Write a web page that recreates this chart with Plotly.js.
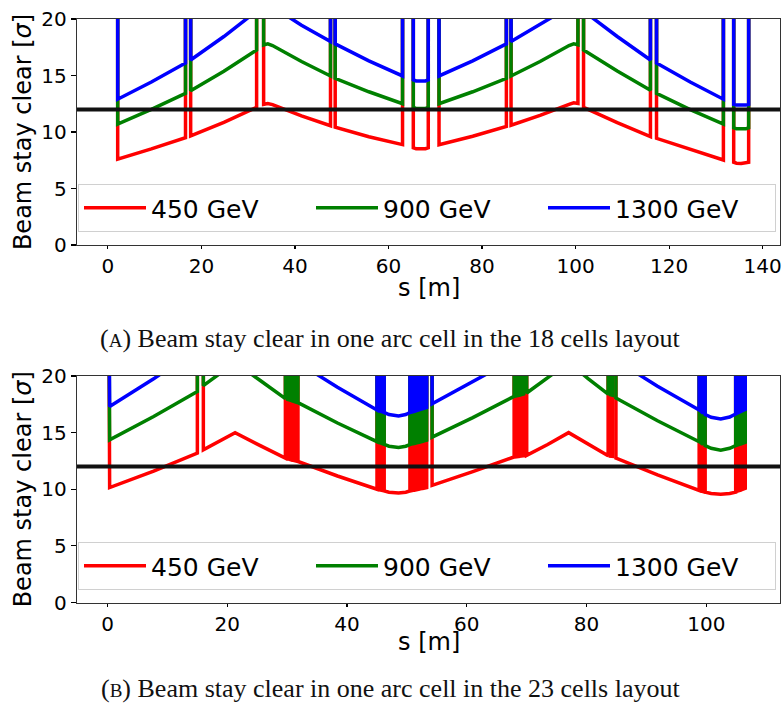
<!DOCTYPE html>
<html>
<head>
<meta charset="utf-8">
<script src="https://cdn.plot.ly/plotly-3.0.1.min.js"></script>
<style>html,body{margin:0;padding:0;background:#fff;}#chart{width:784px;height:713px;}</style>
</head>
<body>
<div id="chart"></div>
<script>
// ---------- data: (A) 18 cells layout ----------
const seriesNames = ["450 GeV", "900 GeV", "1300 GeV"];
const seriesColors = ["#ff0000", "#008000", "#0000ff"];
const threshold = 12;

const sTop = [0, 2.1, 2.1, 9.3, 16.6, 16.6, 17.7, 17.7, 24.8, 31.8,
  31.8, 33.3, 33.3, 34.2, 35.2, 41.4, 47.6, 47.6, 48.6, 48.6,
  55.8, 63.0, 63.0, 65.3, 65.3, 65.9, 66.9, 67.9, 68.5, 68.5,
  70.8, 70.8, 78.0, 85.2, 85.2, 86.2, 86.2, 92.4, 98.6, 99.6,
  100.5, 100.5, 101.7, 101.7, 108.9, 116.0, 116.0, 117.3, 117.3, 124.5,
  131.6, 131.6, 133.8, 133.8, 134.4, 135.4, 136.4, 137.0, 137.0];
const redTop = [30, 30, 7.6, 8.5, 9.5, 30, 30, 9.65, 10.85, 12.18,
  30, 30, 12.45, 12.52, 12.42, 11.42, 10.55, 30, 30, 10.42,
  9.58, 8.88, 30, 30, 8.6, 8.52, 8.5, 8.52, 8.6, 30,
  30, 8.88, 9.62, 10.5, 30, 30, 10.6, 11.47, 12.45, 12.58,
  12.52, 30, 30, 12.18, 10.83, 9.59, 30, 30, 9.44, 8.44,
  7.52, 30, 30, 7.32, 7.24, 7.22, 7.24, 7.32, 30];
const greenTop = [30, 30, 10.7, 12.0, 13.42, 30, 30, 13.65, 15.38, 17.26,
  30, 30, 17.7, 17.8, 17.65, 16.24, 14.96, 30, 30, 14.75,
  13.56, 12.5, 30, 30, 12.2, 12.08, 12.05, 12.08, 12.2, 30,
  30, 12.5, 13.56, 14.75, 30, 30, 14.96, 16.24, 17.65, 17.8,
  17.72, 30, 30, 17.26, 15.4, 13.7, 30, 30, 13.42, 11.98,
  10.7, 30, 30, 10.38, 10.28, 10.25, 10.28, 10.38, 30];
const blueTop = [30, 30, 12.9, 14.42, 16.1, 30, 30, 16.37, 18.45, 20.7,
  30, 30, 21.1, 21.25, 21.1, 19.45, 18.0, 30, 30, 17.8,
  16.3, 14.96, 30, 30, 14.62, 14.52, 14.5, 14.52, 14.62, 30,
  30, 14.96, 16.3, 17.8, 30, 30, 18.0, 19.5, 21.1, 21.3,
  21.2, 30, 30, 20.7, 18.45, 16.37, 30, 30, 16.1, 14.42,
  12.9, 30, 30, 12.45, 12.38, 12.35, 12.38, 12.45, 30];

// ---------- data: (B) 23 cells layout ----------
const sBot = [0.2, 0.35, 0.35, 7.7, 15.0, 15.0, 16.0, 16.0, 21.3, 25.5,
  29.7, 29.7, 30.1, 30.1, 30.5, 30.5, 30.9, 30.9, 31.3, 31.3,
  31.8, 31.8, 38.4, 45.0, 45.0, 45.4, 45.4, 45.8, 45.8, 46.2,
  46.2, 47.0, 48.6, 49.8, 50.5, 50.5, 50.85, 50.85, 51.2, 51.2,
  51.55, 51.55, 51.9, 51.9, 52.25, 52.25, 52.6, 52.6, 52.95, 52.95,
  53.3, 53.3, 54.2, 54.2, 61.0, 67.9, 67.9, 68.3, 68.3, 68.7,
  68.7, 69.1, 69.1, 69.5, 69.5, 70.0, 70.0, 73.5, 77.0, 80.3,
  83.6, 83.6, 83.95, 83.95, 84.3, 84.3, 84.9, 84.9, 91.85, 98.8,
  98.8, 99.15, 99.15, 99.45, 99.45, 99.8, 99.8, 100.8, 102.4, 103.9,
  104.9, 104.9, 105.3, 105.3, 105.7, 105.7, 106.1, 106.1, 106.5, 106.5,
  107.0];
const redBot = [30, 30, 10.15, 11.6, 13.2, 30, 30, 13.48, 15.0, 13.85,
  12.75, 30, 30, 12.7, 12.63, 30, 30, 12.57, 12.52, 30,
  30, 12.45, 11.17, 10.0, 30, 30, 9.95, 9.9, 30, 30,
  9.85, 9.74, 9.66, 9.74, 9.85, 30, 30, 9.88, 9.92, 30,
  30, 9.95, 9.99, 30, 30, 10.03, 10.07, 30, 30, 10.11,
  10.15, 30, 30, 10.35, 11.55, 12.85, 30, 30, 12.87, 12.9,
  30, 30, 12.93, 12.96, 30, 30, 13.0, 13.95, 15.0, 13.95,
  12.95, 30, 30, 12.92, 12.9, 30, 30, 12.75, 11.27, 9.9,
  30, 30, 9.85, 9.8, 30, 30, 9.75, 9.62, 9.55, 9.62,
  9.75, 30, 30, 9.85, 9.92, 30, 30, 10.0, 10.08, 30,
  30];
const greenBot = [30, 30, 14.36, 16.42, 18.64, 30, 30, 19.15, 21.2, 19.6,
  18.0, 30, 30, 17.93, 17.87, 30, 30, 17.8, 17.73, 30,
  30, 17.65, 15.85, 14.2, 30, 30, 14.12, 14.04, 30, 30,
  13.97, 13.8, 13.68, 13.8, 13.95, 30, 30, 14.0, 14.04, 30,
  30, 14.08, 14.13, 30, 30, 14.18, 14.23, 30, 30, 14.28,
  14.33, 30, 30, 14.6, 16.33, 18.2, 30, 30, 18.25, 18.3,
  30, 30, 18.36, 18.42, 30, 30, 18.5, 19.8, 21.2, 19.75,
  18.4, 30, 30, 18.35, 18.3, 30, 30, 18.05, 16.05, 14.2,
  30, 30, 14.08, 13.97, 30, 30, 13.85, 13.62, 13.45, 13.62,
  13.85, 30, 30, 13.93, 14.0, 30, 30, 14.07, 14.15, 30,
  30];
const blueBot = [30, 30, 17.3, 19.75, 22.4, 30, 30, 22.9, 25.5, 23.6,
  21.7, 30, 30, 21.6, 21.5, 30, 30, 21.4, 21.3, 30,
  30, 21.2, 19.0, 17.0, 30, 30, 16.92, 16.85, 30, 30,
  16.78, 16.6, 16.48, 16.6, 16.78, 30, 30, 16.83, 16.88, 30,
  30, 16.93, 16.99, 30, 30, 17.05, 17.11, 30, 30, 17.17,
  17.23, 30, 30, 17.55, 19.45, 21.5, 30, 30, 21.55, 21.6,
  30, 30, 21.65, 21.7, 30, 30, 21.8, 23.6, 25.5, 23.7,
  22.0, 30, 30, 21.95, 21.9, 30, 30, 21.4, 19.1, 17.0,
  30, 30, 16.85, 16.72, 30, 30, 16.6, 16.35, 16.2, 16.38,
  16.65, 30, 30, 16.75, 16.85, 30, 30, 16.95, 17.05, 30,
  30];

const xTicksTop = [0, 20, 40, 60, 80, 100, 120, 140];
const xTicksBot = [0, 20, 40, 60, 80, 100];
const yTicks = [0, 5, 10, 15, 20];
const xTitle = "s [m]";
const yTitle = "Beam stay clear [<i>σ</i>]";
const captionA = "(<span style=\"font-size:19px\">A</span>) Beam stay clear in one arc cell in the 18 cells layout";
const captionB = "(<span style=\"font-size:19px\">B</span>) Beam stay clear in one arc cell in the 23 cells layout";

// ---------- traces ----------
const LW = 3.5;
function mk(x, y, i, xa, ya, leg) {
  return {x: x, y: y, type: 'scatter', mode: 'lines', name: seriesNames[i],
    line: {color: seriesColors[i], width: LW}, xaxis: xa, yaxis: ya, legend: leg,
    hoverinfo: 'skip'};
}
const topVals = [redTop, greenTop, blueTop];
const botVals = [redBot, greenBot, blueBot];
const data = [];
topVals.forEach((v, i) => data.push(mk(sTop, v, i, 'x', 'y', 'legend')));
botVals.forEach((v, i) => data.push(mk(sBot, v, i, 'x2', 'y2', 'legend2')));

const tickFont = {family: 'DejaVu Sans', size: 20, color: '#000'};
const titleFont = {family: 'DejaVu Sans', size: 24, color: '#000'};
function xa(dom, range, ticks, anchor) {
  return {domain: dom, range: range, anchor: anchor, tickmode: 'array', tickvals: ticks,
    showgrid: false, zeroline: false, showline: true, mirror: true,
    linecolor: '#333', linewidth: 1.2, ticks: 'outside', ticklen: 3, tickwidth: 1.2,
    tickcolor: '#000', tickfont: tickFont};
}
function ya(dom, anchor) {
  return {domain: dom, range: [0, 20], anchor: anchor, tickmode: 'array', tickvals: yTicks,
    showgrid: false, zeroline: false, showline: true, mirror: true,
    linecolor: '#333', linewidth: 1.2, ticks: 'outside', ticklen: 5, tickwidth: 1.2,
    tickcolor: '#000', tickfont: tickFont,
    title: {text: yTitle, font: titleFont, standoff: 3}};
}
const W = 784, Hh = 713;
const xdom = [77 / W, 780 / W];
const legendStyle = {orientation: 'h', xanchor: 'left', yanchor: 'bottom',
  bgcolor: 'rgba(255,255,255,0.8)', bordercolor: '#d0d0d0', borderwidth: 1,
  font: {family: 'DejaVu Sans', size: 25, color: '#000'},
  entrywidth: 155, entrywidthmode: 'pixels', itemwidth: 62, traceorder: 'normal'};

const layout = {
  width: W, height: Hh, margin: {l: 0, r: 0, t: 0, b: 0},
  paper_bgcolor: '#fff', plot_bgcolor: '#fff', showlegend: true,
  xaxis: xa(xdom, [-6.6, 143.7], xTicksTop, 'y'),
  yaxis: ya([1 - 245 / Hh, 1 - 19 / Hh], 'x'),
  xaxis2: xa(xdom, [-5.1, 112.3], xTicksBot, 'y2'),
  yaxis2: ya([1 - 602.5 / Hh, 1 - 376 / Hh], 'x2'),
  legend: Object.assign({x: 78 / W, y: 1 - 232 / Hh}, legendStyle),
  legend2: Object.assign({x: 78 / W, y: 1 - 590 / Hh}, legendStyle),
  shapes: [
    {type: 'line', xref: 'x domain', yref: 'y', x0: 0, x1: 1, y0: threshold, y1: threshold,
     line: {color: '#111', width: 4}, layer: 'above'},
    {type: 'line', xref: 'x2 domain', yref: 'y2', x0: 0, x1: 1, y0: threshold, y1: threshold,
     line: {color: '#111', width: 4}, layer: 'above'}
  ],
  annotations: [
    {text: xTitle, xref: 'x domain', yref: 'paper', x: 0.5, y: 1 - 288 / Hh,
     xanchor: 'center', yanchor: 'middle', showarrow: false, font: titleFont},
    {text: xTitle, xref: 'x2 domain', yref: 'paper', x: 0.5, y: 1 - 642 / Hh,
     xanchor: 'center', yanchor: 'middle', showarrow: false, font: titleFont},
    {text: captionA, xref: 'paper', yref: 'paper', x: 390 / W, y: 1 - 338 / Hh,
     xanchor: 'center', yanchor: 'middle', showarrow: false,
     font: {family: 'Liberation Serif', size: 26, color: '#111'}},
    {text: captionB, xref: 'paper', yref: 'paper', x: 390 / W, y: 1 - 688 / Hh,
     xanchor: 'center', yanchor: 'middle', showarrow: false,
     font: {family: 'Liberation Serif', size: 26, color: '#111'}}
  ]
};
Plotly.newPlot('chart', data, layout, {displayModeBar: false, staticPlot: true});
</script>
</body>
</html>
